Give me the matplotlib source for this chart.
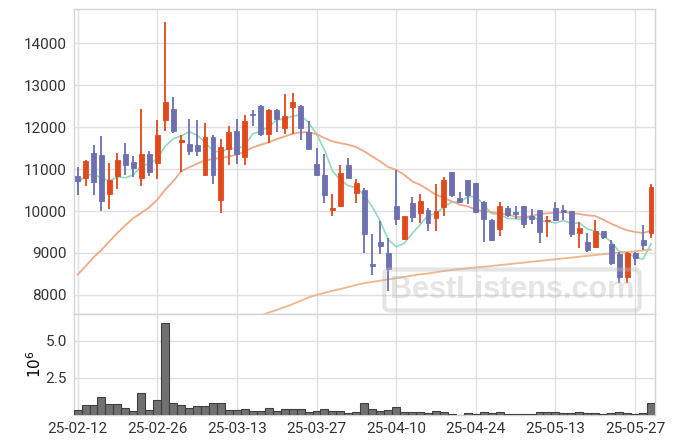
import matplotlib
matplotlib.use('Agg')
import matplotlib.pyplot as plt
import numpy as np
import pandas as pd

plt.rcParams['font.family'] = ['Roboto', 'DejaVu Sans']
plt.rcParams['font.size'] = 10

# trading days (KRX, holidays removed)
holidays = ['2025-03-03', '2025-05-01', '2025-05-05', '2025-05-06']
days = pd.bdate_range('2025-02-12', '2025-05-29')
days = days[~days.isin(pd.to_datetime(holidays))]

opens = [10840, 10790, 11390, 11330, 10400, 10830, 11360, 11180, 10780, 11360,
         11140, 12180, 12430, 11640, 11600, 11580, 10870, 11770, 10260, 11470,
         11910, 11280, 12300, 12510, 11830, 12410, 11990, 12470, 12510, 11890,
         11130, 10860, 10020, 10120, 11100, 10420, 10490, 8730, 9260, 9010,
         10130, 9330, 10190, 9960, 10020, 9830, 10090, 10940, 10320, 10750,
         10670, 10210, 9790, 9570, 10060, 9980, 10120, 9880, 10020, 9750,
         10070, 10020, 10000, 9470, 9260, 9140, 9520, 9210, 8970, 8420,
         9000, 9310, 9470]
highs = [11040, 11220, 11580, 11790, 11140, 11390, 11630, 11310, 12430, 11440,
         12180, 14500, 12710, 11820, 12190, 12170, 12100, 11800, 11710, 12020,
         12190, 12290, 12410, 12530, 12420, 12440, 12790, 12820, 12520, 12140,
         11500, 11360, 10410, 11090, 11260, 10760, 10550, 9440, 9750, 9360,
         10980, 9880, 10340, 10410, 10070, 10640, 10810, 10940, 10450, 10750,
         10670, 10250, 9820, 10210, 10130, 10110, 10130, 10050, 10030, 9870,
         10210, 10140, 10000, 9730, 9470, 9780, 9520, 9320, 9020, 9020,
         9020, 9660, 10640]
lows = [10370, 10590, 10380, 9990, 10050, 10530, 10870, 10800, 10600, 10830,
        10760, 11900, 11870, 10920, 11330, 11300, 10860, 10640, 9950, 11100,
        11120, 11100, 12030, 11780, 11620, 11880, 11830, 11830, 11700, 11470,
        10830, 10190, 9890, 10100, 10760, 10190, 9000, 8480, 8980, 8100,
        9660, 9320, 9740, 9710, 9520, 9530, 9880, 10340, 10180, 10170,
        9960, 9250, 9280, 9410, 9860, 9820, 9600, 9690, 9240, 9390,
        9750, 9790, 9370, 9120, 9020, 9130, 9330, 8710, 8290, 8290,
        8710, 9070, 9360]
closes = [10710, 11200, 10680, 10230, 10750, 11210, 11100, 11020, 11360, 10920,
          11820, 12600, 11900, 11700, 11420, 11420, 11770, 10870, 11530, 11890,
          11360, 12150, 12280, 11830, 12410, 12190, 12270, 12600, 11990, 11480,
          10850, 10370, 10080, 10900, 10790, 10670, 9450, 8700, 9170, 8610,
          9800, 9870, 9850, 10240, 9710, 10010, 10730, 10390, 10210, 10390,
          9980, 9800, 9300, 10130, 9910, 9940, 9680, 9820, 9500, 9790,
          9780, 9980, 9440, 9600, 9060, 9520, 9390, 8770, 8420, 9010,
          8870, 9200, 10580]
# closes of the 4 days before the window (for the 5-day average)
prev_closes = [10290, 10520, 10700, 11110]

# volume, millions
volume = [0.34, 0.65, 0.65, 1.19, 0.72, 0.72, 0.45, 0.25, 1.46, 0.34,
          1.01, 6.19, 0.79, 0.65, 0.45, 0.59, 0.59, 0.79, 0.79, 0.34,
          0.34, 0.41, 0.25, 0.25, 0.45, 0.25, 0.38, 0.38, 0.38, 0.18,
          0.25, 0.38, 0.25, 0.25, 0.11, 0.18, 0.79, 0.41, 0.27, 0.34,
          0.52, 0.18, 0.18, 0.18, 0.11, 0.27, 0.18, 0.05, 0.02, 0.11,
          0.05, 0.18, 0.11, 0.18, 0.05, 0.05, 0.05, 0.05, 0.18, 0.18,
          0.18, 0.11, 0.11, 0.18, 0.11, 0.11, 0.05, 0.11, 0.18, 0.11,
          0.05, 0.11, 0.79]

ma20 = [8484, 8682, 8897, 9071, 9278, 9476, 9659, 9833, 9952, 10087,
        10270, 10508, 10706, 10944, 11040, 11127, 11206, 11238, 11262, 11301,
        11341, 11421, 11516, 11579, 11635, 11714, 11778, 11841, 11873, 11881,
        11833, 11738, 11659, 11619, 11579, 11524, 11421, 11301, 11183, 11047,
        10984, 10865, 10706, 10627, 10508, 10389, 10310, 10230, 10150, 10111,
        10032, 9992, 9976, 9944, 9913, 9865, 9849, 9881, 9929, 9944,
        9960, 9976, 9952, 9929, 9897, 9881, 9794, 9698, 9611, 9540,
        9500, 9476, 9532]
ma60 = [np.nan] * 21 + [
        7390, 7450, 7510, 7580, 7640, 7710, 7780, 7860, 7940,
        8000, 8050, 8100, 8140, 8190, 8240, 8280, 8310, 8340, 8370,
        8400, 8430, 8460, 8490, 8510, 8540, 8570, 8595, 8615, 8635,
        8655, 8670, 8690, 8710, 8730, 8750, 8770, 8790, 8810, 8830,
        8850, 8870, 8890, 8910, 8930, 8950, 8970, 8990, 9005, 9020,
        9040, 9060, 9080]

up_c = '#E2491A'
dn_c = '#6C70B0'
grid_c = '#E0E0E0'

x = np.arange(len(closes))
o = np.array(opens)
c = np.array(closes)
ma5 = pd.Series(prev_closes + closes).rolling(5).mean().values[4:]

fig = plt.figure(figsize=(6.75, 4.44), dpi=100)
ax = fig.add_axes([74 / 675, 1 - 314 / 444, 581 / 675, 305 / 444])
axv = fig.add_axes([74 / 675, 1 - 415 / 444, 581 / 675, 101 / 444], sharex=ax)

colors = [up_c if cl > op else dn_c for op, cl in zip(opens, closes)]
ax.vlines(x, lows, highs, colors=colors, linewidth=1.3, zorder=3)
body = np.maximum(np.abs(c - o), 25)
ax.bar(x, body, bottom=np.minimum(o, c), width=0.62, color=colors,
       edgecolor=colors, linewidth=0.6, zorder=4)

ax.plot(x, ma5, color='#90DABF', lw=1.2, zorder=2)
ax.plot(x, ma20, color='#F0A888', lw=1.3, zorder=2)
ax.plot(x, ma60, color='#EEB68A', lw=1.3, zorder=2)

ax.set_xlim(-0.45, 72.5)
ax.set_ylim(7545, 14815)
ax.set_yticks([8000, 9000, 10000, 11000, 12000, 13000, 14000])

axv.bar(x, volume, width=1.0, color='#707070', edgecolor='#404040',
        linewidth=0.8, zorder=3)
axv.set_ylim(0, 6.82)
axv.set_yticks([2.5, 5.0])
axv.set_yticklabels(['2.5', '5.0'])
axv.set_ylabel('$10^6$', labelpad=1, fontsize=11)

ticks = list(range(0, 73, 10))
axv.set_xticks(ticks)
axv.set_xticklabels([days[i].strftime('%y-%m-%d') for i in ticks])
plt.setp(ax.get_xticklabels(), visible=False)

for a in (ax, axv):
    a.grid(True, color=grid_c, lw=1.0, zorder=0)
    a.set_axisbelow(True)
    a.tick_params(length=0, colors='#333333', labelsize=11, pad=5)
    for s in a.spines.values():
        s.set_color('#D4D4D4')
        s.set_linewidth(1.0)

fig.text(512 / 675, 1 - 290 / 444, 'BestListens.com', ha='center', va='center',
         fontsize=22, fontweight='bold', family='Liberation Sans',
         color='#BBBBBB', alpha=0.38, zorder=10,
         bbox=dict(boxstyle='round,pad=0.18', facecolor='none',
                   edgecolor='#BBBBBB', lw=3, alpha=0.38))

fig.savefig('out.png', dpi=100)
